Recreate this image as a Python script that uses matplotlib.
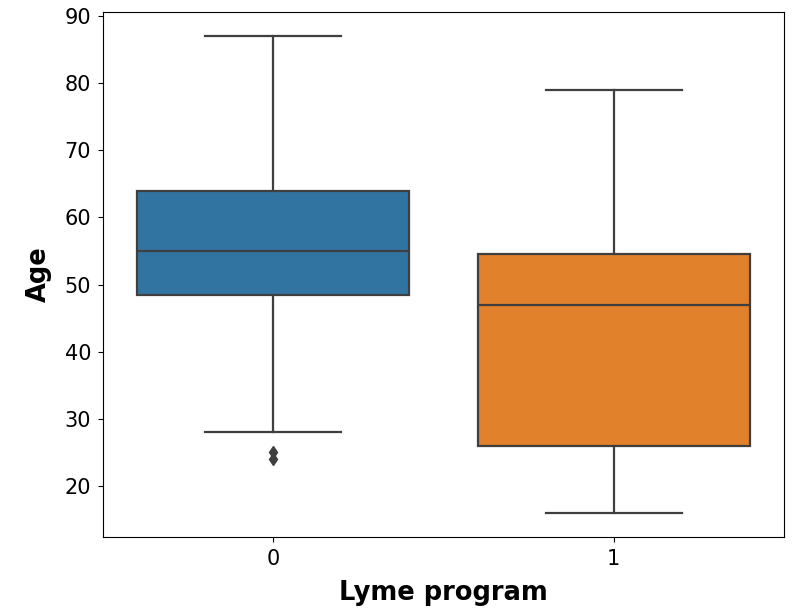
import matplotlib
matplotlib.use("Agg")
import matplotlib.pyplot as plt

# Box statistics
groups = ["0", "1"]
whislo = [28, 16]
q1 = [48.5, 26]
med = [55, 47]
q3 = [64, 54.5]
whishi = [87, 79]
fliers = [[24, 25], []]
colors = ["#3274a1", "#e1812c"]

stats = []
for i, g in enumerate(groups):
    stats.append({
        "label": g, "whislo": whislo[i], "q1": q1[i], "med": med[i],
        "q3": q3[i], "whishi": whishi[i], "fliers": fliers[i],
    })

fig = plt.figure(figsize=(7.95, 6.1), dpi=100)
ax = fig.add_axes([0.1296, 0.1197, 0.8566, 0.8606])

gray = "#3f3f3f"
bp = ax.bxp(stats, positions=range(len(groups)), widths=0.8, patch_artist=True,
            boxprops=dict(edgecolor=gray, linewidth=1.6),
            medianprops=dict(color=gray, linewidth=1.6),
            whiskerprops=dict(color=gray, linewidth=1.6),
            capprops=dict(color=gray, linewidth=1.6),
            flierprops=dict(marker="d", markerfacecolor=gray, markeredgecolor=gray,
                            markersize=6, linestyle="none"),
            capwidths=0.4)
for patch, c in zip(bp["boxes"], colors):
    patch.set_facecolor(c)

ax.set_xlim(-0.5, 1.5)
ax.set_ylim(12.4, 90.6)
ax.set_xticks(range(len(groups)))
ax.set_xticklabels(groups)
ax.tick_params(labelsize=15, pad=5)
ax.set_xlabel("Lyme program", fontsize=18.5, fontweight="bold", labelpad=8)
ax.set_ylabel("Age", fontsize=18.5, fontweight="bold", labelpad=9)

fig.savefig("out.png", dpi=100)
